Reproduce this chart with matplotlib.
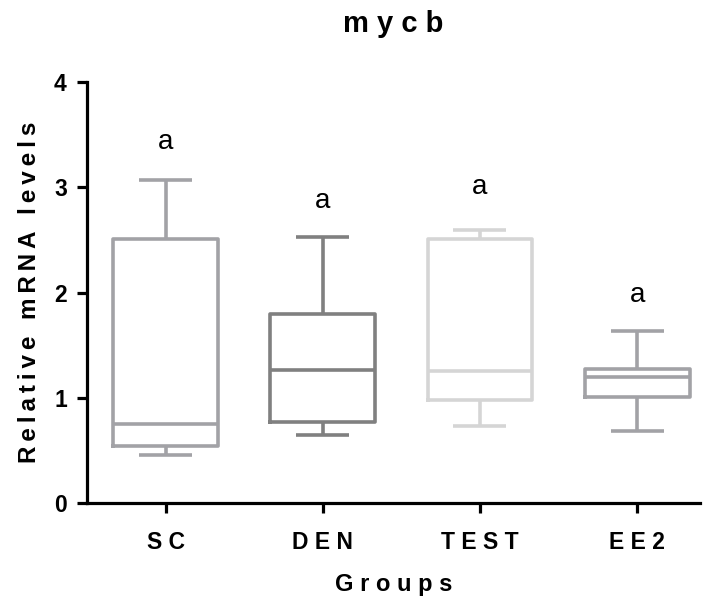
import matplotlib
matplotlib.use("Agg")
import matplotlib.pyplot as plt

# Box-plot summary per treatment group (relative mRNA levels of mycb)
groups = ["SC", "DEN", "TEST", "EE2"]
whisker_low = [0.46, 0.65, 0.74, 0.69]
q1 = [0.55, 0.77, 0.98, 1.01]
median = [0.75, 1.27, 1.26, 1.20]
q3 = [2.51, 1.80, 2.51, 1.28]
whisker_high = [3.07, 2.53, 2.60, 1.64]
sig_letters = ["a", "a", "a", "a"]
letter_y = [3.36, 2.80, 2.94, 1.91]
box_colors = ["#a2a2a6", "#808080", "#d5d5d5", "#a2a2a6"]

plt.rcParams["font.family"] = ["Liberation Sans", "DejaVu Sans"]

THIN = "\u2009"


def tracked(text, gap=THIN, word_gap=THIN + " " + THIN):
    """Spread the letters of a label apart (letter-spaced typography)."""
    return word_gap.join(gap.join(word) for word in text.split(" "))


fig = plt.figure(figsize=(7.09, 6.05), dpi=100)
ax = fig.add_axes([0.1227, 0.1678, 0.8646, 0.6967])

positions = list(range(1, len(groups) + 1))
for pos, lo, a, m, b, hi, col in zip(positions, whisker_low, q1, median, q3,
                                      whisker_high, box_colors):
    stats = [dict(whislo=lo, q1=a, med=m, q3=b, whishi=hi, fliers=[])]
    lw = 2.6
    ax.bxp(stats, positions=[pos], widths=0.667, capwidths=0.337,
           showfliers=False, patch_artist=False,
           boxprops=dict(color=col, linewidth=lw),
           medianprops=dict(color=col, linewidth=lw),
           whiskerprops=dict(color=col, linewidth=lw, solid_capstyle="butt"),
           capprops=dict(color=col, linewidth=lw, solid_capstyle="butt"))

for pos, txt, y in zip(positions, sig_letters, letter_y):
    ax.text(pos, y, txt, ha="center", va="baseline", fontsize=20,
            color="black")

ax.set_xlim(0.5, 4.4)
ax.set_ylim(0, 4)
ax.set_yticks([0, 1, 2, 3, 4])
ax.set_xticks(positions)
ax.set_xticklabels([" ".join(g) for g in groups], fontsize=16.5,
                   fontweight="bold")
ax.set_yticklabels(["0", "1", "2", "3", "4"], fontsize=16.5,
                   fontweight="bold")

for side in ("top", "right"):
    ax.spines[side].set_visible(False)
for side in ("left", "bottom"):
    ax.spines[side].set_linewidth(2.3)
    ax.spines[side].set_color("black")

ax.tick_params(axis="both", direction="out", length=7.5, width=2.3,
               color="black")
ax.tick_params(axis="x", pad=12)
ax.tick_params(axis="y", pad=7)

ax.set_xlabel("G r o u p s", fontsize=17, fontweight="bold", labelpad=14)
ax.set_ylabel(tracked("Relative mRNA levels"), fontsize=17.5,
              fontweight="bold", labelpad=9)
ax.set_title("m y c b", fontsize=21, fontweight="bold", pad=36)

fig.savefig("out.png", dpi=100)
